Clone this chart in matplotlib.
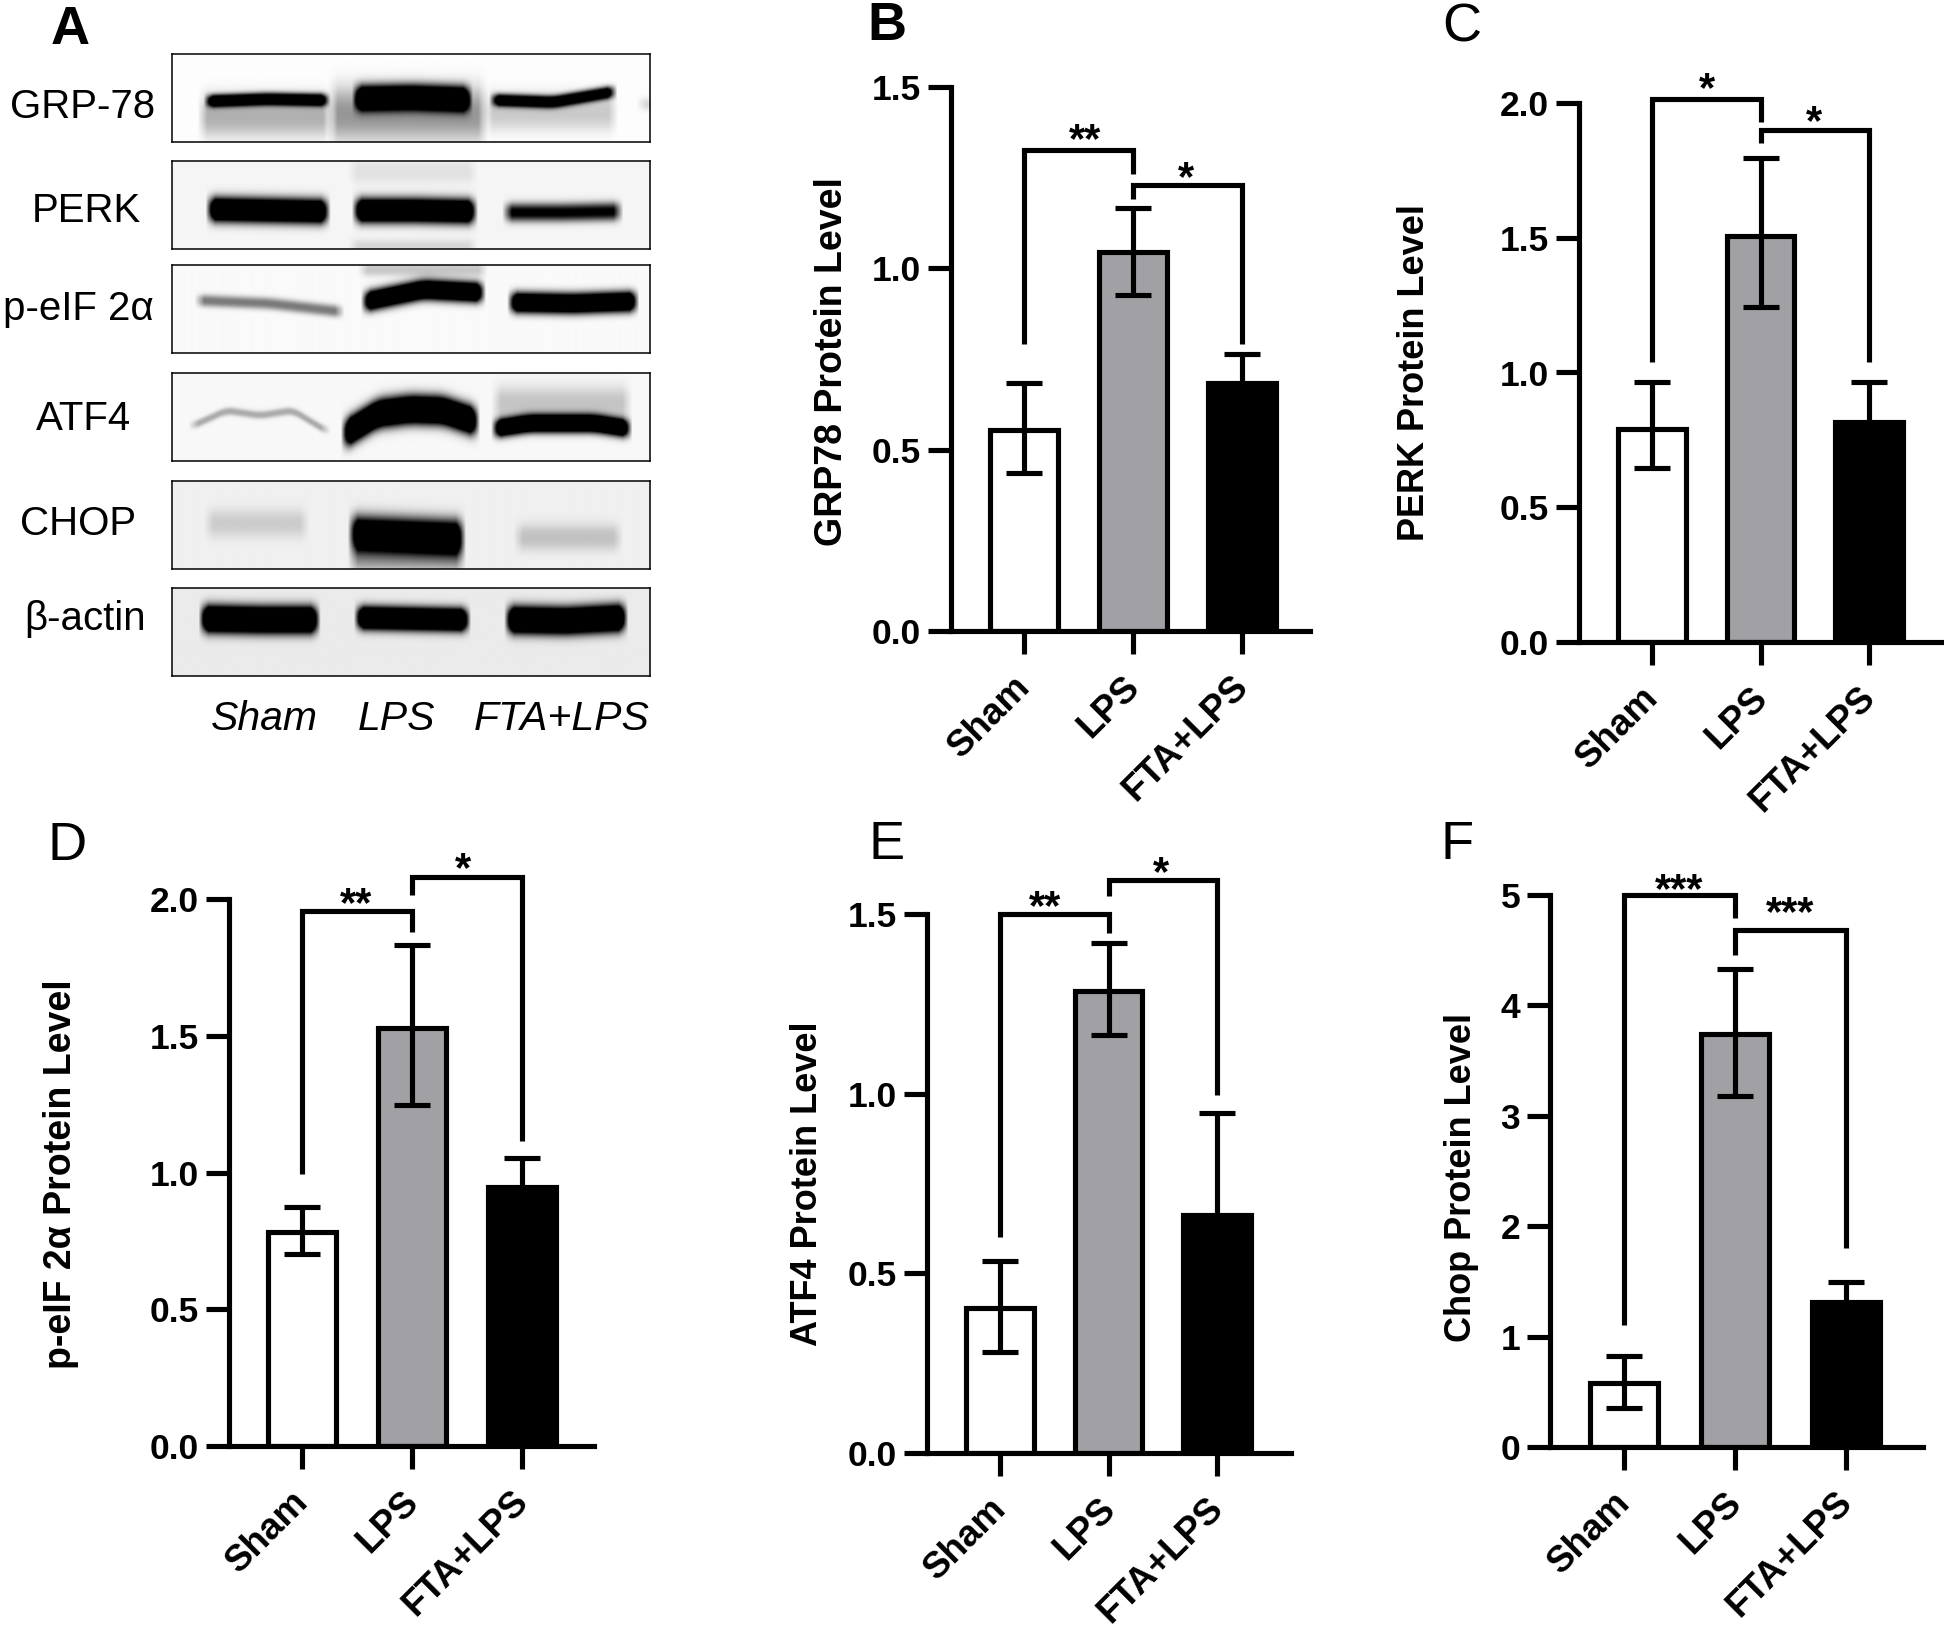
import numpy as np
import matplotlib
matplotlib.use('Agg')
import matplotlib.pyplot as plt
from matplotlib.transforms import ScaledTranslation

plt.rcParams['font.family'] = ['Liberation Sans', 'DejaVu Sans']

W, H = 1944, 1630
DPI = 100

groups = ['Sham', 'LPS', 'FTA+LPS']
blot_names = ['GRP-78', 'PERK', 'p-eIF 2α', 'ATF4', 'CHOP', 'β-actin']

# bar heights, lower and upper end of the error bars
grp78_means = [0.555, 1.045, 0.683]
grp78_low = [0.437, 0.926, 0.60]
grp78_high = [0.683, 1.165, 0.765]

perk_means = [0.79, 1.507, 0.815]
perk_low = [0.644, 1.244, 0.67]
perk_high = [0.966, 1.797, 0.966]

eif_means = [0.783, 1.53, 0.947]
eif_low = [0.702, 1.248, 0.84]
eif_high = [0.873, 1.83, 1.054]

atf4_means = [0.403, 1.287, 0.663]
atf4_low = [0.28, 1.163, 0.38]
atf4_high = [0.535, 1.42, 0.947]

chop_means = [0.58, 3.74, 1.31]
chop_low = [0.355, 3.18, 1.12]
chop_high = [0.825, 4.33, 1.495]

# significance brackets: top, left drop, right drop, stars
grp78_br1 = [1.326, 0.79, 1.26, '**']
grp78_br2 = [1.23, 1.19, 0.79, '*']
perk_br1 = [2.015, 1.04, 1.93, '*']
perk_br2 = [1.90, 1.85, 1.04, '*']
eif_br1 = [1.957, 0.995, 1.88, '**']
eif_br2 = [2.08, 2.013, 1.114, '*']
atf4_br1 = [1.5, 0.6, 1.447, '**']
atf4_br2 = [1.594, 1.551, 0.995, '*']
chop_br1 = [5.0, 1.106, 4.79, '***']
chop_br2 = [4.68, 4.46, 1.80, '***']

fig = plt.figure(figsize=(W / DPI, H / DPI), dpi=DPI, facecolor='white')


def px_axes(x0, x1, ytop, ybot):
    return fig.add_axes([x0 / W, 1 - ybot / H, (x1 - x0) / W, (ybot - ytop) / H])


LW = 3.7
GRAY = '#a1a1a5'


def bar_panel(means, low, high, br1, br2, ticks, ymax, ylabel, label_size, rect, tick_px, ylab_px, star_px):
    x0, x1, ytop, ybot = rect
    ax = px_axes(x0, x1, ytop, ybot)
    t0, t1, t2 = tick_px
    step = (t2 - t0) / 2
    ax.set_xlim((x0 - t0) / step, (x1 - t0) / step)
    ax.set_ylim(0, ymax)
    xs = np.arange(3)
    m = np.array(means)
    ax.bar(xs, m, width=0.62, color=['white', GRAY, 'black'], edgecolor='black', linewidth=LW, zorder=2)
    ax.errorbar(xs, m, yerr=[m - np.array(low), np.array(high) - m], fmt='none', ecolor='black',
                elinewidth=LW, capsize=13.3, capthick=LW, zorder=3)
    for s in ['top', 'right']:
        ax.spines[s].set_visible(False)
    for s in ['left', 'bottom']:
        ax.spines[s].set_linewidth(LW)
    ax.set_yticks(ticks)
    ax.set_yticklabels([('%d' % t) if ymax == 5 else ('%.1f' % t) for t in ticks],
                       fontsize=25.5, fontweight='bold')
    ax.tick_params(axis='y', length=16.5, width=LW, pad=5)
    ax.set_xticks(xs)
    ax.set_xticklabels(groups, fontsize=26.5, fontweight='bold', rotation=45, ha='right',
                       rotation_mode='anchor')
    ax.tick_params(axis='x', length=16.5, width=LW, pad=11)
    shift = ScaledTranslation(-11 / DPI, 0, fig.dpi_scale_trans)
    for lab in ax.get_xticklabels():
        lab.set_transform(lab.get_transform() + shift)
    fig.text(ylab_px[0] / W, 1 - ylab_px[1] / H, ylabel, rotation=90, ha='center', va='center',
             fontsize=label_size, fontweight='bold')

    for (top, ld, rd, st), (xa, xb), sp in zip([br1, br2], [(0, 1), (1, 2)], star_px):
        ax.plot([xa, xa, xb, xb], [ld, top, top, rd], color='black', lw=LW, clip_on=False,
                solid_joinstyle='miter', solid_capstyle='butt', zorder=4)
        fig.text(sp[0] / W, 1 - (sp[1] + 17) / H, st, ha='center', va='baseline', fontsize=30, fontweight='bold')
    return ax


bar_panel(grp78_means, grp78_low, grp78_high, grp78_br1, grp78_br2, [0, 0.5, 1.0, 1.5], 1.5,
          'GRP78 Protein Level', 27, (951, 1310, 87, 631), (1024, 1133, 1242), (832, 362),
          [(1085, 135), (1186, 173)])
bar_panel(perk_means, perk_low, perk_high, perk_br1, perk_br2, [0, 0.5, 1.0, 1.5, 2.0], 2.0,
          'PERK Protein Level', 26, (1579, 1942, 103, 642), (1652, 1761, 1869), (1414, 373),
          [(1707, 84), (1814, 117)])
bar_panel(eif_means, eif_low, eif_high, eif_br1, eif_br2, [0, 0.5, 1.0, 1.5, 2.0], 2.0,
          'p-eIF 2α Protein Level', 27, (229, 594, 899, 1446), (302, 411.5, 522), (61, 1174),
          [(356, 899), (463, 864)])
bar_panel(atf4_means, atf4_low, atf4_high, atf4_br1, atf4_br2, [0, 0.5, 1.0, 1.5], 1.5,
          'ATF4 Protein Level', 26, (927, 1291, 914, 1453), (1000, 1108, 1217), (807, 1184),
          [(1045, 902), (1161, 868)])
bar_panel(chop_means, chop_low, chop_high, chop_br1, chop_br2, [0, 1, 2, 3, 4, 5], 5,
          'Chop Protein Level', 26, (1550, 1923, 895, 1447), (1624, 1735, 1846), (1461, 1177),
          [(1679, 885), (1790, 908)])

# blot bands: lane start, lane end, band centre knots, half thickness, darkness
grp_bands = [(36, 153, [47, 45, 46], 6, 1.5), (184, 295, [44, 43, 45], 12, 1.7), (321, 439, [46, 48, 38], 6, 1.4),
             (30, 155, [62, 62, 62], 20, 0.30), (160, 310, [60, 60, 60], 26, 0.40), (315, 440, [58, 58, 58], 18, 0.20),
             (468, 478, [50, 50, 50], 6, 0.15)]
perk_bands = [(38, 153, [48, 49, 50], 12, 1.8), (184, 300, [49, 49, 50], 12, 1.8), (334, 445, [51, 51, 50], 9, 1.0),
              (180, 300, [86, 86, 86], 8, 0.12), (180, 300, [10, 10, 10], 12, 0.08)]
eif_bands = [(27, 167, [35, 38, 46], 6, 0.5), (193, 308, [36, 24, 27], 10, 1.8), (339, 461, [37, 38, 36], 10, 1.8),
             (190, 310, [4, 4, 4], 7, 0.2)]
atf4_bands = [(21, 153, [52, 37, 42, 37, 57], 4, 0.3), (173, 302, [60, 40, 36, 37, 48], 14, 2.0),
              (323, 454, [55, 50, 50, 50, 55], 9, 1.8), (323, 454, [30, 30, 30, 30, 30], 17, 0.2)]
chop_bands = [(36, 132, [42, 42, 42], 14, 0.14), (180, 288, [52, 54, 56], 17, 1.6), (180, 288, [76, 76, 76], 14, 0.35),
              (345, 445, [56, 56, 56], 13, 0.18)]
actin_bands = [(31, 143, [31, 32, 32], 13, 2.0), (186, 293, [30, 31, 32], 11, 2.0), (336, 450, [32, 33, 30], 13, 2.0)]
blot_bands = [grp_bands, perk_bands, eif_bands, atf4_bands, chop_bands, actin_bands]
blot_bg = [0.99, 0.96, 0.98, 0.97, 0.94, 0.92]
blot_tops = [54, 161, 265, 373, 481, 588]
blot_left = 172


def blot_image(bands, bg, w=478, h=88):
    xx, yy = np.meshgrid(np.arange(w), np.arange(h))
    dark = np.zeros((h, w))
    kernel = np.ones(15) / 15
    for a, b, knots, th, d in bands:
        xk = np.linspace(a, b, len(knots))
        yc = np.interp(np.arange(-7, w + 7), xk, knots)
        yc = np.convolve(yc, kernel, mode='same')[7:-7]
        lane = np.clip((xx - a) / 10 + 0.5, 0, 1) * np.clip((b - xx) / 10 + 0.5, 0, 1)
        dark += d * lane * np.exp(-np.abs((yy - yc[None, :]) / th) ** 2.4)
    return np.clip(bg - dark, 0, 1)


for top, bands, bg in zip(blot_tops, blot_bands, blot_bg):
    ax = px_axes(blot_left, blot_left + 478, top, top + 88)
    ax.imshow(blot_image(bands, bg), cmap='gray', vmin=0, vmax=1, aspect='auto', interpolation='bilinear')
    ax.set_xticks([])
    ax.set_yticks([])
    for s in ax.spines.values():
        s.set_linewidth(1.1)

blot_label_px = [(83, 107), (86, 211), (78, 309), (83, 419), (78, 524), (85, 619)]
for name, (x, y) in zip(blot_names, blot_label_px):
    fig.text(x / W, 1 - y / H, name, ha='center', va='center', fontsize=29)

lane_label_px = [264, 396, 562]
for name, x in zip(groups, lane_label_px):
    fig.text(x / W, 1 - 719 / H, name, ha='center', va='center', fontsize=29.5, style='italic')

letter_px = [('A', 70, 30, 'bold'), ('B', 887, 26, 'bold'), ('C', 1462, 27, 'normal'),
             ('D', 67, 846, 'normal'), ('E', 887, 845, 'normal'), ('F', 1457, 845, 'normal')]
for letter, x, y, weight in letter_px:
    fig.text(x / W, 1 - y / H, letter, ha='center', va='center', fontsize=39, fontweight=weight)

fig.savefig('out.png', dpi=DPI)
